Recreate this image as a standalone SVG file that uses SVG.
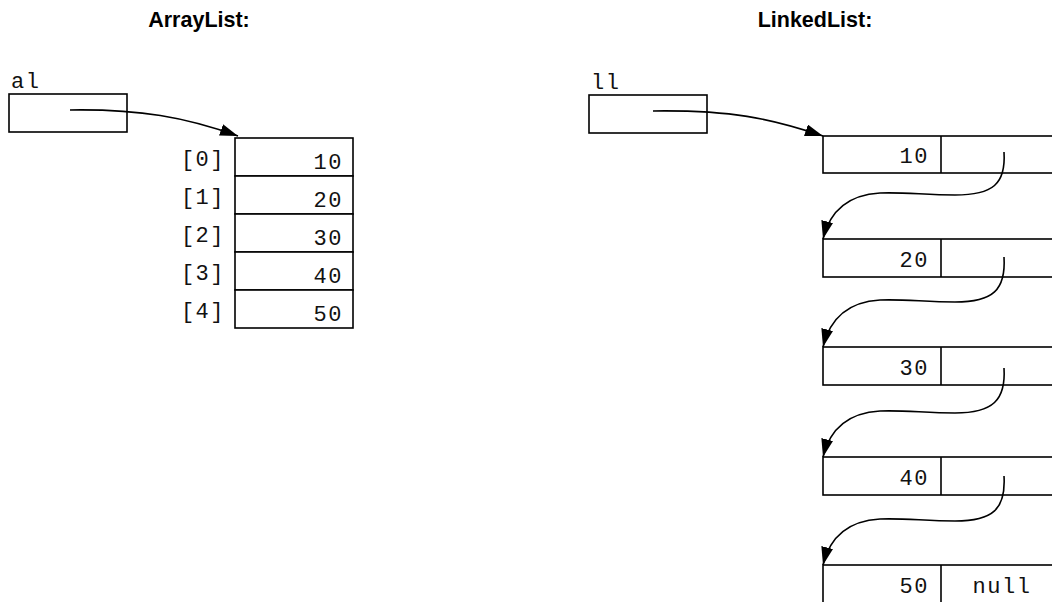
<svg xmlns="http://www.w3.org/2000/svg" width="1052" height="602" viewBox="0 0 1052 602">
<style>
.title{font-family:"Liberation Sans",Arial,sans-serif;font-weight:bold;font-size:21.5px;fill:#000;text-anchor:middle}
.mono{font-family:"Liberation Mono","Courier New",monospace;font-size:22px;letter-spacing:1.5px;fill:#111}
.end{text-anchor:end}
.mid{text-anchor:middle}
.box{fill:#fff;stroke:#000;stroke-width:1.6}
.ln{fill:none;stroke:#000;stroke-width:1.6}
.conn{fill:none;stroke:#000;stroke-width:1.6;marker-end:url(#ah)}
</style>
<defs>
<marker id="ah" markerUnits="userSpaceOnUse" markerWidth="20" markerHeight="12" refX="18" refY="6" orient="auto">
<path d="M0,0 L18,6 L0,12 Z" fill="#000"/>
</marker>
</defs>
<rect width="1052" height="602" fill="#fff"/>
<text class="title" x="199" y="27">ArrayList:</text>
<text class="title" x="815" y="27">LinkedList:</text>

<g id="al">
<text class="mono" x="11" y="88">al</text>
<rect class="box" x="9" y="94" width="118" height="38"/>
</g>
<g id="array">
<rect class="box" x="235" y="138" width="118" height="38"/>
<rect class="box" x="235" y="176" width="118" height="38"/>
<rect class="box" x="235" y="214" width="118" height="38"/>
<rect class="box" x="235" y="252" width="118" height="38"/>
<rect class="box" x="235" y="290" width="118" height="38"/>
<text class="mono end" x="225" y="166">[0]</text>
<text class="mono end" x="225" y="204">[1]</text>
<text class="mono end" x="225" y="242">[2]</text>
<text class="mono end" x="225" y="280">[3]</text>
<text class="mono end" x="225" y="318">[4]</text>
<text class="mono end" x="343" y="169">10</text>
<text class="mono end" x="343" y="207">20</text>
<text class="mono end" x="343" y="245">30</text>
<text class="mono end" x="343" y="283">40</text>
<text class="mono end" x="343" y="321">50</text>
</g>

<g id="ll">
<text class="mono" x="591" y="89">ll</text>
<rect class="box" x="589" y="95" width="118" height="38"/>
</g>
<g id="n10">
<rect class="box" x="823" y="136" width="240" height="37"/>
<line class="ln" x1="941" y1="136" x2="941" y2="173"/>
<text class="mono end" x="929" y="163">10</text>
</g>
<g id="n20">
<rect class="box" x="823" y="239" width="240" height="38"/>
<line class="ln" x1="941" y1="239" x2="941" y2="277"/>
<text class="mono end" x="929" y="267">20</text>
</g>
<g id="n30">
<rect class="box" x="823" y="347" width="240" height="38"/>
<line class="ln" x1="941" y1="347" x2="941" y2="385"/>
<text class="mono end" x="929" y="375">30</text>
</g>
<g id="n40">
<rect class="box" x="823" y="457" width="240" height="38"/>
<line class="ln" x1="941" y1="457" x2="941" y2="495"/>
<text class="mono end" x="929" y="485">40</text>
</g>
<g id="n50">
<rect class="box" x="823" y="565" width="240" height="45"/>
<line class="ln" x1="941" y1="565" x2="941" y2="610"/>
<text class="mono end" x="929" y="593">50</text>
<text class="mono mid" x="1002" y="593">null</text>
</g>

<g id="connectors">
<path class="conn" d="M70,110 C140,109 185,117 238,136"/>
<path class="conn" d="M653,111 C730,110 770,118 823,136"/>
<path class="conn" d="M1004,152 C1006,184 993,195 955,195 C925,195 905,192 880,193 C845,195 829,214 823,239"/>
<path class="conn" d="M1004,257 C1006,290 993,302 955,302 C925,302 905,299 880,300 C845,302 829,322 823,347"/>
<path class="conn" d="M1004,368 C1006,400 993,413 955,413 C925,413 905,410 880,411 C845,413 829,432 823,457"/>
<path class="conn" d="M1004,476 C1006,509 993,521 955,521 C925,521 905,518 880,519 C845,521 829,540 823,565"/>
</g>
</svg>
